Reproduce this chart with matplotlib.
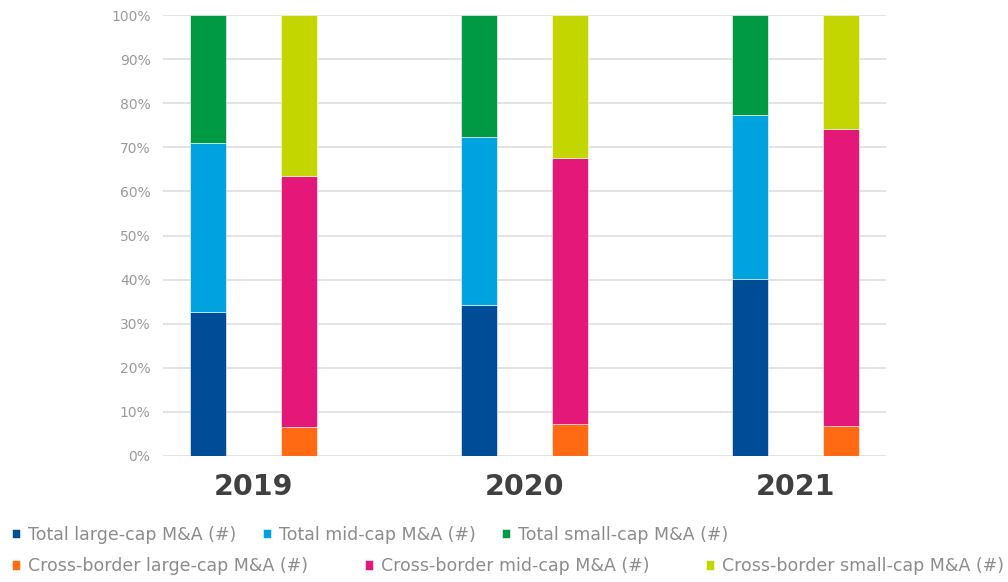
import matplotlib.pyplot as plt
import numpy as np

years = ['2019', '2020', '2021']

# shares in % (each stack sums to 100)
total_large = [32.6, 34.2, 40.1]
total_mid = [38.4, 38.1, 37.2]
total_small = [29.0, 27.7, 22.7]
cross_large = [6.5, 7.3, 6.8]
cross_mid = [57.0, 60.3, 67.3]
cross_small = [36.5, 32.4, 25.9]

total_labels = ['Total large-cap M&A (#)', 'Total mid-cap M&A (#)', 'Total small-cap M&A (#)']
cross_labels = ['Cross-border large-cap M&A (#)', 'Cross-border mid-cap M&A (#)',
                'Cross-border small-cap M&A (#)']
total_colors = ['#004C97', '#00A3E0', '#009A44']
cross_colors = ['#FF6A13', '#E31878', '#C4D600']

fig = plt.figure(figsize=(10.08, 5.82), dpi=100)
ax = fig.add_axes([0.1617, 0.2165, 0.7173, 0.7577])

x = np.arange(len(years))
width = 0.133
off = 0.168

h_total = []
bottom = np.zeros(3)
for vals, c, lab in zip([total_large, total_mid, total_small], total_colors, total_labels):
    b = ax.bar(x - off, vals, width, bottom=bottom, color=c, label=lab,
               edgecolor='white', linewidth=0.4, zorder=3)
    h_total.append(b)
    bottom += np.array(vals)

h_cross = []
bottom = np.zeros(3)
for vals, c, lab in zip([cross_large, cross_mid, cross_small], cross_colors, cross_labels):
    b = ax.bar(x + off, vals, width, bottom=bottom, color=c, label=lab,
               edgecolor='white', linewidth=0.4, zorder=3)
    h_cross.append(b)
    bottom += np.array(vals)

ax.set_xlim(-0.334, 2.334)
ax.set_ylim(0, 100)
ax.set_yticks(np.arange(0, 101, 10))
ax.set_yticklabels([f'{v}%' for v in range(0, 101, 10)])
ax.set_xticks(x)
ax.set_xticklabels(years)
ax.tick_params(axis='y', length=0, pad=9, labelsize=10, labelcolor='#9a9a9a')
ax.tick_params(axis='x', length=0, pad=12)
for t in ax.get_xticklabels():
    t.set_fontsize(20.5)
    t.set_fontweight('bold')
    t.set_color('#404040')
ax.grid(axis='y', color='#e3e3e3', linewidth=1.4, zorder=0)
for s in ax.spines.values():
    s.set_visible(False)

common = dict(frameon=False, fontsize=12.5, labelcolor='#8c8c8c', handlelength=0.45,
              handleheight=0.45, handletextpad=0.45, borderaxespad=0, borderpad=0)
leg1 = fig.legend(h_total, total_labels, ncol=3, loc='center left',
                  bbox_to_anchor=(0.012, 0.081), columnspacing=1.55, **common)
leg2 = fig.legend(h_cross, cross_labels, ncol=3, loc='center left',
                  bbox_to_anchor=(0.012, 0.027), columnspacing=3.3, **common)

plt.savefig('out.png', dpi=100)
